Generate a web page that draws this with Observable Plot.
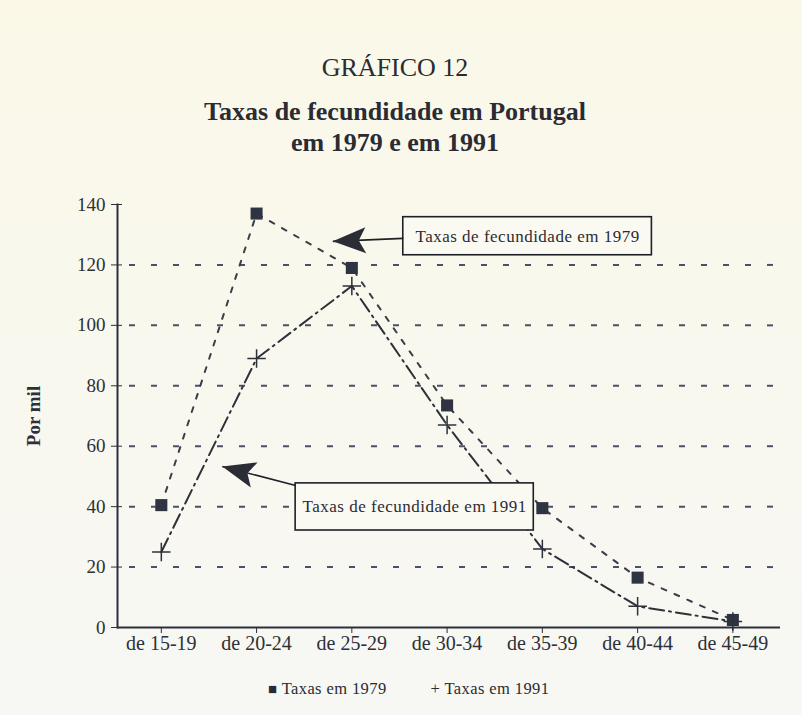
<!DOCTYPE html>
<html>
<head>
<meta charset="utf-8">
<script src="https://cdn.jsdelivr.net/npm/d3@7"></script>
<script src="https://cdn.jsdelivr.net/npm/@observablehq/plot@0.6"></script>
<style>
  html, body { margin: 0; padding: 0; background: #ffffff; }
  #page { position: relative; width: 802px; height: 715px; overflow: hidden;
          background: linear-gradient(#fbf8e8, #f9f8ef 55%, #f7f7f4); }
  .t { position: absolute; left: 0; width: 790px; text-align: center;
       font-family: "Liberation Serif", "DejaVu Serif", serif; color: #2b2b33; }
  #chart { position: absolute; left: 0; top: 180px; }
  #legend { position: absolute; top: 679px; left: 268px; font-family: "Liberation Serif", serif;
            font-size: 16.5px; letter-spacing: 0.4px; color: #2b2b33; white-space: nowrap; }
  #legend .gap { display: inline-block; width: 44px; }
</style>
</head>
<body>
<div id="page">
  <div class="t" style="top:53px;font-size:26px;">GRÁFICO 12</div>
  <div class="t" style="top:96px;font-size:26px;font-weight:bold;line-height:31px;">Taxas de fecundidade em Portugal<br>em 1979 e em 1991</div>
  <div id="chart"></div>
  <div id="legend"><span style="font-size:15px">&#9632;</span> Taxas em 1979<span class="gap"></span>+ Taxas em 1991</div>
</div>
<script>
// ---- data ----
const ages = ["de 15-19", "de 20-24", "de 25-29", "de 30-34", "de 35-39", "de 40-44", "de 45-49"];
const taxas1979 = [40.5, 137, 119, 73.5, 39.5, 16.5, 2.5];
const taxas1991 = [25, 89, 113, 67, 26, 7, 2];
const yTicks = [0, 20, 40, 60, 80, 100, 120, 140];
const gridValues = [20, 40, 60, 80, 100, 120];
const annotLabels = ["Taxas de fecundidade em 1979", "Taxas de fecundidade em 1991"];
// annotation anchors in data units (x = age-group index, y = por mil)
const boxX1 = [2.54, 1.41], boxX2 = [5.15, 3.91];
const boxY1 = [123.2, 32.1], boxY2 = [135.8, 47.7];
const arrowFromX = [2.54, 1.41], arrowFromY = [128.8, 47.0];
const arrowTipX = [1.80, 0.64], arrowTipY = [127.8, 53.3];
const arrowRotate = [-92, -75];

const d1979 = ages.map((a, i) => ({i, v: taxas1979[i]}));
const d1991 = ages.map((a, i) => ({i, v: taxas1991[i]}));
const annots = annotLabels.map((label, k) => ({
  label, x1: boxX1[k], x2: boxX2[k], y1: boxY1[k], y2: boxY2[k],
  xm: (boxX1[k] + boxX2[k]) / 2, ym: (boxY1[k] + boxY2[k]) / 2,
  ax1: arrowFromX[k], ay1: arrowFromY[k], ax2: arrowTipX[k], ay2: arrowTipY[k], rot: arrowRotate[k]
}));

// arrowhead symbol: tip at the origin, pointing up
const arrowHead = {
  draw(ctx, size) {
    ctx.moveTo(0, 0);
    ctx.lineTo(13, 33);
    ctx.lineTo(0, 26);
    ctx.lineTo(-13, 33);
    ctx.closePath();
  }
};

const ink = "#2d3038";
const serif = "Liberation Serif, DejaVu Serif, serif";

const chart = Plot.plot({
  width: 802,
  height: 535,
  marginLeft: 117,
  marginRight: 22,
  marginTop: 24,
  marginBottom: 88,
  style: {background: "transparent", fontFamily: serif, color: ink},
  x: {type: "linear", domain: [-0.46, 6.5]},
  y: {domain: [0, 140]},
  marks: [
    Plot.ruleY(gridValues, {stroke: "#4a4f6a", strokeWidth: 2, strokeDasharray: "6,16", strokeDashoffset: -12}),
    Plot.line(d1979, {x: "i", y: "v", stroke: "#3a3d48", strokeWidth: 2, strokeDasharray: "5,9"}),
    Plot.line(d1991, {x: "i", y: "v", stroke: "#2e313a", strokeWidth: 2, strokeDasharray: "15,5,2,5"}),
    Plot.dot(d1979, {x: "i", y: "v", symbol: "square", r: 6.8, fill: "#2f3442"}),
    Plot.dot(d1991, {x: "i", y: "v", symbol: "plus", r: 6, stroke: "#2e313a", strokeWidth: 1.5}),
    Plot.rect(annots, {x1: "x1", x2: "x2", y1: "y1", y2: "y2", fill: "#fbfaf2", stroke: "#1e2028", strokeWidth: 1.6}),
    Plot.text(annots, {x: "xm", y: "ym", text: "label", fontSize: 17, fill: "#2b2b33", fontFamily: serif}),
    Plot.link(annots, {x1: "ax1", y1: "ay1", x2: "ax2", y2: "ay2", stroke: "#1e2028", strokeWidth: 1.6}),
    Plot.dot(annots, {x: "ax2", y: "ay2", symbol: arrowHead, r: 10, rotate: "rot", fill: "#2a2d36"}),
    Plot.ruleY([0], {stroke: "#2b2f3f", strokeWidth: 2}),
    Plot.frame({anchor: "left", stroke: "#2b2f3f", strokeWidth: 2}),
    Plot.axisX({ticks: d3.range(ages.length), tickFormat: i => ages[i], tickSize: 6, tickPadding: 2,
                fontSize: 20, label: null, stroke: ink}),
    Plot.axisY({ticks: yTicks, tickSize: 6, tickPadding: 6, fontSize: 19, label: "Por mil",
                labelAnchor: "center", labelArrow: "none", labelOffset: 91}),
    Plot.axisY({ticks: yTicks, tickSize: -5, tickFormat: () => "", label: null})
  ]
});
document.getElementById("chart").appendChild(chart);
// bold axis label
chart.querySelectorAll("g[aria-label='y-axis label'] text").forEach(t => {
  t.setAttribute("font-weight", "bold"); t.setAttribute("font-size", "19");
});
chart.querySelectorAll("g[aria-label='text'] text").forEach(t => t.style.letterSpacing = "0.5px");
</script>
</body>
</html>
